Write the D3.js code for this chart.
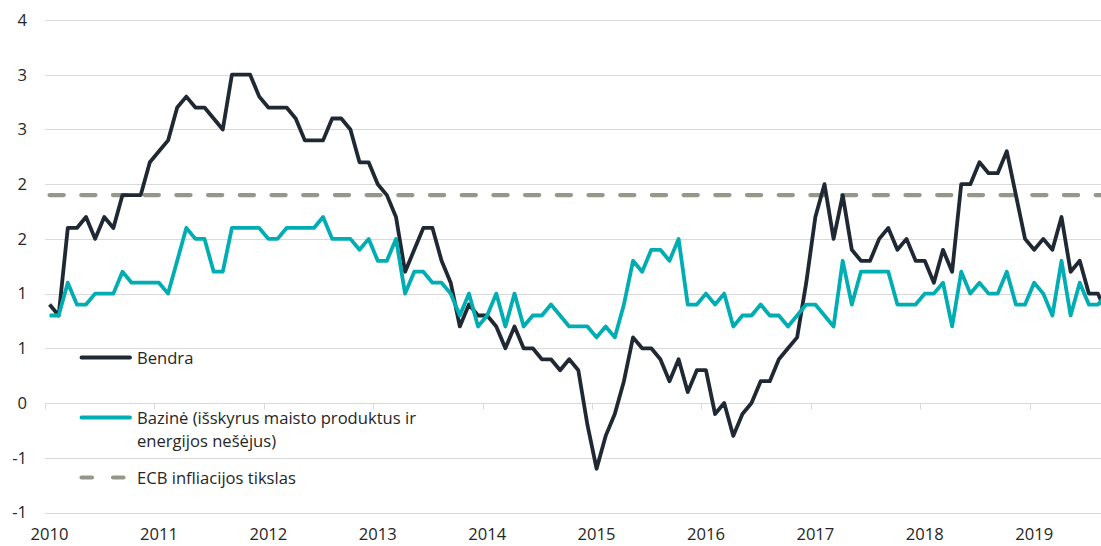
<!DOCTYPE html>
<html>
<head>
<meta charset="utf-8">
<script src="https://cdnjs.cloudflare.com/ajax/libs/d3/7.8.5/d3.min.js"></script>
<style>
  body { margin: 0; background: #fff; }
  text { font-family: "Open Sans", "Noto Sans", sans-serif; fill: #262626; }
</style>
</head>
<body>
<script>
// Years shown on the x axis (monthly data, Jan 2010 - Sep 2019)
var years = ["2010", "2011", "2012", "2013", "2014", "2015", "2016", "2017", "2018", "2019"];

// Headline inflation (Bendra), % y/y
var bendra = [
  0.9, 0.8, 1.6, 1.6, 1.7, 1.5, 1.7, 1.6, 1.9, 1.9, 1.9, 2.2,
  2.3, 2.4, 2.7, 2.8, 2.7, 2.7, 2.6, 2.5, 3.0, 3.0, 3.0, 2.8,
  2.7, 2.7, 2.7, 2.6, 2.4, 2.4, 2.4, 2.6, 2.6, 2.5, 2.2, 2.2,
  2.0, 1.9, 1.7, 1.2, 1.4, 1.6, 1.6, 1.3, 1.1, 0.7, 0.9, 0.8,
  0.8, 0.7, 0.5, 0.7, 0.5, 0.5, 0.4, 0.4, 0.3, 0.4, 0.3, -0.2,
  -0.6, -0.3, -0.1, 0.2, 0.6, 0.5, 0.5, 0.4, 0.2, 0.4, 0.1, 0.3,
  0.3, -0.1, 0.0, -0.3, -0.1, 0.0, 0.2, 0.2, 0.4, 0.5, 0.6, 1.1,
  1.7, 2.0, 1.5, 1.9, 1.4, 1.3, 1.3, 1.5, 1.6, 1.4, 1.5, 1.3,
  1.3, 1.1, 1.4, 1.2, 2.0, 2.0, 2.2, 2.1, 2.1, 2.3, 1.9, 1.5,
  1.4, 1.5, 1.4, 1.7, 1.2, 1.3, 1.0, 1.0, 0.8
];

// Core inflation (Bazinė), % y/y
var bazine = [
  0.8, 0.8, 1.1, 0.9, 0.9, 1.0, 1.0, 1.0, 1.2, 1.1, 1.1, 1.1,
  1.1, 1.0, 1.3, 1.6, 1.5, 1.5, 1.2, 1.2, 1.6, 1.6, 1.6, 1.6,
  1.5, 1.5, 1.6, 1.6, 1.6, 1.6, 1.7, 1.5, 1.5, 1.5, 1.4, 1.5,
  1.3, 1.3, 1.5, 1.0, 1.2, 1.2, 1.1, 1.1, 1.0, 0.8, 1.0, 0.7,
  0.8, 1.0, 0.7, 1.0, 0.7, 0.8, 0.8, 0.9, 0.8, 0.7, 0.7, 0.7,
  0.6, 0.7, 0.6, 0.9, 1.3, 1.2, 1.4, 1.4, 1.3, 1.5, 0.9, 0.9,
  1.0, 0.9, 1.0, 0.7, 0.8, 0.8, 0.9, 0.8, 0.8, 0.7, 0.8, 0.9,
  0.9, 0.8, 0.7, 1.3, 0.9, 1.2, 1.2, 1.2, 1.2, 0.9, 0.9, 0.9,
  1.0, 1.0, 1.1, 0.7, 1.2, 1.0, 1.1, 1.0, 1.0, 1.2, 0.9, 0.9,
  1.1, 1.0, 0.8, 1.3, 0.8, 1.1, 0.9, 0.9, 1.0
];

// ECB target line
var ecbTikslas = 1.9;

// y tick values
var yTicks = [-1, -0.5, 0, 0.5, 1, 1.5, 2, 2.5, 3, 3.5];

var legendLabels = ["Bendra", "Bazinė (išskyrus maisto produktus ir|energijos nešėjus)", "ECB infliacijos tikslas"];

window.onload = drawChart();
function drawChart(){

  var width = 1101,
      height = 546;

  var colBendra = "#1f2833",
      colBazine = "#00adb3",
      colEcb = "#959889",
      colGrid = "#d9d9d9";

  // month categories built from the years
  var months = [];
  years.forEach(function(y){
    d3.range(12).forEach(function(m){ months.push(y + "-" + (m + 1)); });
  });
  months = months.slice(0, bendra.length);

  var svg = d3.select("body")
      .append("svg")
      .attr("width", width)
      .attr("height", height);

  var step = 109.4 / 12;
  var x = d3.scaleBand()
      .domain(months)
      .range([45, 45 + step * months.length])
      .padding(0);

  var y = d3.scaleLinear()
      .domain([-1, 3.5])
      .range([512.5, 20]);

  var xc = function(i){ return x(months[i]) + x.bandwidth() / 2; };

  // gridlines
  svg.append("g").selectAll("line")
      .data(yTicks)
      .enter()
      .append("line")
      .attr("x1", 45)
      .attr("x2", x.range()[1])
      .attr("y1", function(d){ return Math.round(y(d)) + 0.5; })
      .attr("y2", function(d){ return Math.round(y(d)) + 0.5; })
      .attr("stroke", colGrid)
      .attr("stroke-width", 1);

  // tick marks on the zero line at year boundaries
  var y0 = Math.round(y(0)) + 0.5;
  svg.append("g").selectAll("line")
      .data(months.filter(function(m, i){ return i % 12 === 0; }))
      .enter()
      .append("line")
      .attr("x1", function(d){ return Math.round(x(d)) + 0.5; })
      .attr("x2", function(d){ return Math.round(x(d)) + 0.5; })
      .attr("y1", y0)
      .attr("y2", y0 + 6)
      .attr("stroke", colGrid)
      .attr("stroke-width", 1);

  // y axis labels
  var yAxis = svg.append("g")
      .attr("transform", "translate(27,0)")
      .call(d3.axisLeft(y)
        .tickValues(yTicks)
        .tickSize(0)
        .tickPadding(0)
        .tickFormat(function(d){ return d.toFixed(0); }));
  yAxis.select(".domain").remove();
  yAxis.selectAll("text")
      .style("font-size", "16.6px")
      .style("font-family", "'Open Sans', sans-serif")
      .attr("fill", "#262626");

  // x axis labels (January of each year)
  var xAxis = svg.append("g")
      .attr("transform", "translate(0,528)")
      .call(d3.axisBottom(x)
        .tickValues(months.filter(function(m, i){ return i % 12 === 0; }))
        .tickSize(0)
        .tickPadding(0)
        .tickFormat(function(d){ return d.split("-")[0]; }));
  xAxis.select(".domain").remove();
  xAxis.selectAll("text")
      .style("font-size", "16.6px")
      .style("font-family", "'Open Sans', sans-serif")
      .attr("fill", "#262626");

  // ECB target dashed line
  svg.append("line")
      .attr("x1", xc(0))
      .attr("x2", x.range()[1] + 20)
      .attr("y1", y(ecbTikslas))
      .attr("y2", y(ecbTikslas))
      .attr("stroke", colEcb)
      .attr("stroke-width", 4.2)
      .attr("stroke-linecap", "round")
      .attr("stroke-dasharray", "14.2,17.5");

  var line = d3.line()
      .x(function(d, i){ return xc(i); })
      .y(function(d){ return y(d); });

  svg.append("path")
      .datum(bendra)
      .attr("d", line)
      .attr("fill", "none")
      .attr("stroke", colBendra)
      .attr("stroke-width", 3.8)
      .attr("stroke-linejoin", "round");

  svg.append("path")
      .datum(bazine)
      .attr("d", line)
      .attr("fill", "none")
      .attr("stroke", colBazine)
      .attr("stroke-width", 3.8)
      .attr("stroke-linejoin", "round");

  // legend
  var legendY = [357.5, 417.5, 477.5];
  var legendCols = [colBendra, colBazine, colEcb];
  var legend = svg.append("g");
  legendLabels.forEach(function(lbl, k){
    var ln = legend.append("line")
        .attr("x1", 81.5)
        .attr("x2", 130)
        .attr("y1", legendY[k])
        .attr("y2", legendY[k])
        .attr("stroke", legendCols[k])
        .attr("stroke-linecap", "round");
    if (k === 2) {
      ln.attr("stroke-width", 4.2).attr("stroke-dasharray", "10.5,21");
    } else {
      ln.attr("stroke-width", 3.8);
    }
    var t = legend.append("text")
        .attr("x", 137)
        .attr("y", legendY[k] + 6.5)
        .style("font-size", "16.6px");
    lbl.split("|").forEach(function(part, j){
      t.append("tspan")
          .attr("x", 137)
          .attr("dy", j === 0 ? 0 : 22.5)
          .text(part);
    });
  });
};
</script>
</body>
</html>
